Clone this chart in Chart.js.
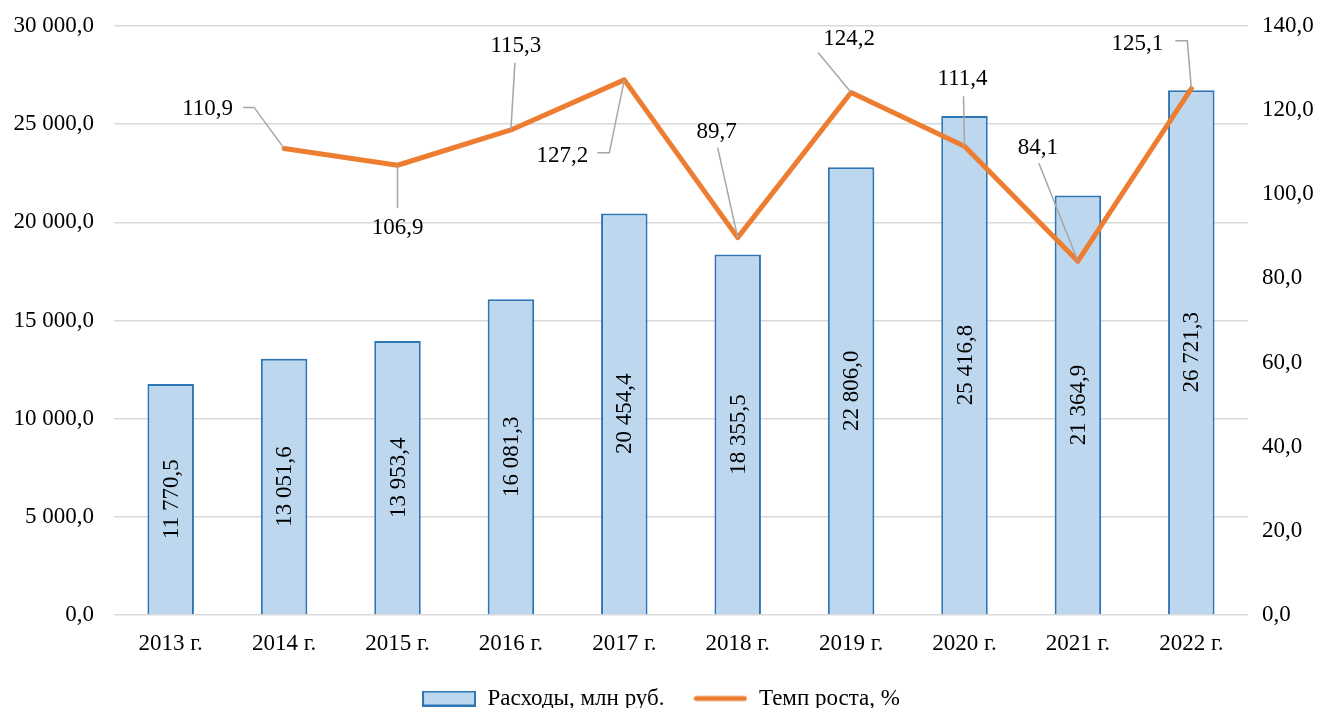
<!DOCTYPE html>
<html lang="ru">
<head>
<meta charset="utf-8">
<title>Расходы и темп роста</title>
<script src="https://cdn.jsdelivr.net/npm/chart.js@4.4.1/dist/chart.umd.min.js"></script>
<style>
    html, body { margin: 0; padding: 0; background: #fff; }
    #wrap { width: 1322px; height: 708px; }
</style>
</head>
<body>
<div id="wrap"><canvas id="mainChart" width="1322" height="708"></canvas></div>
<script>
// данные
const years = ['2013 г.', '2014 г.', '2015 г.', '2016 г.', '2017 г.', '2018 г.', '2019 г.', '2020 г.', '2021 г.', '2022 г.'];
const expenses = [11770.5, 13051.6, 13953.4, 16081.3, 20454.4, 18355.5, 22806.0, 25416.8, 21364.9, 26721.3];
const growth = [null, 110.9, 106.9, 115.3, 127.2, 89.7, 124.2, 111.4, 84.1, 125.1];
const leftTicks = [0, 5000, 10000, 15000, 20000, 25000, 30000];
const rightTicks = [0, 20, 40, 60, 80, 100, 120, 140];

const FONT = '"Liberation Serif", "Times New Roman", serif';

// число в виде "26 721,3"
function fmt(v) {
    const parts = v.toFixed(1).split('.');
    const intPart = parts[0].replace(/\B(?=(\d{3})+(?!\d))/g, ' ');
    return intPart + ',' + parts[1];
}

// значки легенды
function legendIcon(kind) {
    const c = document.createElement('canvas');
    c.width = 54;
    c.height = 16;
    const g = c.getContext('2d');
    if (kind === 'bar') {
        g.fillStyle = '#BDD7EE';
        g.fillRect(1, 1, 52, 14);
        g.strokeStyle = '#2E75B6';
        g.lineWidth = 2;
        g.strokeRect(1, 1, 52, 14);
    } else {
        g.strokeStyle = '#ED7D31';
        g.lineWidth = 5;
        g.lineCap = 'round';
        g.beginPath();
        g.moveTo(3, 8);
        g.lineTo(51, 8);
        g.stroke();
    }
    return c;
}

// смещения подписей темпа роста относительно точки: текст и выноска
const growthLabelPos = [
    null,
    { dx: -51, dy: -40, align: 'right', lead: [[-41, -41], [-30, -41]] },
    { dx: 0, dy: 62, align: 'center', lead: [[0, 43]] },
    { dx: 5, dy: -85, align: 'center', lead: [[4, -67]] },
    { dx: -36, dy: 75, align: 'right', lead: [[-27, 73], [-15, 73]] },
    { dx: -21, dy: -107, align: 'center', lead: [[-20, -90]] },
    { dx: -2, dy: -55, align: 'center', lead: [[-33, -40]] },
    { dx: -2, dy: -68, align: 'center', lead: [[-1, -50]] },
    { dx: -40, dy: -114, align: 'center', lead: [[-39, -98]] },
    { dx: -28, dy: -46, align: 'right', lead: [[-16, -48], [-4, -48]] }
];

const labelsPlugin = {
    id: 'valueLabels',
    afterDatasetsDraw(chart) {
        const ctx = chart.ctx;
        ctx.save();
        ctx.font = '23px ' + FONT;
        ctx.fillStyle = '#000';

        // подписи столбцов (вертикально)
        const barMeta = chart.getDatasetMeta(0);
        barMeta.data.forEach((bar, i) => {
            const cy = (bar.y + bar.base) / 2;
            ctx.save();
            ctx.translate(bar.x, cy);
            ctx.rotate(-Math.PI / 2);
            ctx.textAlign = 'center';
            ctx.textBaseline = 'middle';
            ctx.fillText(fmt(expenses[i]), 0, 1);
            ctx.restore();
        });

        // подписи линии с выносками
        const lineMeta = chart.getDatasetMeta(1);
        lineMeta.data.forEach((pt, i) => {
            const pos = growthLabelPos[i];
            if (!pos || growth[i] === null) return;
            const px = pt.x, py = pt.y;
            ctx.strokeStyle = '#A6A6A6';
            ctx.lineWidth = 1.5;
            ctx.beginPath();
            ctx.moveTo(px + pos.lead[0][0], py + pos.lead[0][1]);
            for (let k = 1; k < pos.lead.length; k++) {
                ctx.lineTo(px + pos.lead[k][0], py + pos.lead[k][1]);
            }
            ctx.lineTo(px, py);
            ctx.stroke();
            ctx.textAlign = pos.align;
            ctx.textBaseline = 'middle';
            ctx.fillText(fmt(growth[i]), px + pos.dx, py + pos.dy + 1);
        });
        ctx.restore();
    }
};

// убираем лишний отступ сверху/снизу у вертикальных осей
function fixVertical(width) {
    return function(scale) {
        scale.width = width;
        scale.paddingTop = 0;
        scale.paddingBottom = 0;
    };
}

const mainChart = new Chart(document.getElementById('mainChart'), {
    data: {
        labels: years,
        datasets: [{
            type: 'bar',
            label: 'Расходы, млн руб.',
            data: expenses,
            yAxisID: 'y',
            backgroundColor: '#BDD7EE',
            borderColor: '#2E75B6',
            borderWidth: 2,
            categoryPercentage: 1.0,
            barPercentage: 0.41,
            order: 1
        }, {
            type: 'line',
            label: 'Темп роста, %',
            data: growth,
            yAxisID: 'y1',
            borderColor: '#ED7D31',
            backgroundColor: '#ED7D31',
            borderWidth: 5,
            borderJoinStyle: 'round',
            borderCapStyle: 'round',
            pointRadius: 0,
            tension: 0,
            order: 0
        }]
    },
    options: {
        responsive: false,
        animation: false,
        layout: { padding: { top: 26, left: 0, right: 0, bottom: -12 } },
        plugins: {
            tooltip: { enabled: false },
            legend: {
                position: 'bottom',
                labels: {
                    font: { family: FONT, size: 23 },
                    color: '#000',
                    usePointStyle: true,
                    pointStyleWidth: 54,
                    boxHeight: 16,
                    padding: 29,
                    generateLabels() {
                        return [{
                            text: 'Расходы, млн руб.',
                            fillStyle: '#BDD7EE',
                            strokeStyle: '#2E75B6',
                            lineWidth: 0,
                            pointStyle: legendIcon('bar'),
                            datasetIndex: 0,
                            hidden: false
                        }, {
                            text: 'Темп роста, %',
                            fillStyle: '#ED7D31',
                            strokeStyle: '#ED7D31',
                            lineWidth: 0,
                            pointStyle: legendIcon('line'),
                            datasetIndex: 1,
                            hidden: false
                        }];
                    }
                }
            }
        },
        scales: {
            x: {
                afterFit(scale) { scale.height = 43; },
                grid: { display: false },
                border: { display: false },
                ticks: { font: { family: FONT, size: 23 }, color: '#000', padding: 7 }
            },
            y: {
                position: 'left',
                min: 0,
                max: 30000,
                afterFit: fixVertical(114),
                afterBuildTicks(scale) { scale.ticks = leftTicks.map(v => ({ value: v })); },
                grid: { color: '#D9D9D9', lineWidth: 1.5, drawTicks: false },
                border: { display: false },
                ticks: {
                    font: { family: FONT, size: 23 },
                    color: '#000',
                    padding: 20,
                    callback: v => fmt(v)
                }
            },
            y1: {
                position: 'right',
                min: 0,
                max: 140,
                afterFit: fixVertical(74),
                afterBuildTicks(scale) { scale.ticks = rightTicks.map(v => ({ value: v })); },
                grid: { display: false, drawTicks: false },
                border: { display: false },
                ticks: {
                    font: { family: FONT, size: 23 },
                    color: '#000',
                    padding: 14,
                    callback: v => fmt(v)
                }
            }
        }
    },
    plugins: [labelsPlugin]
});
</script>
</body>
</html>
